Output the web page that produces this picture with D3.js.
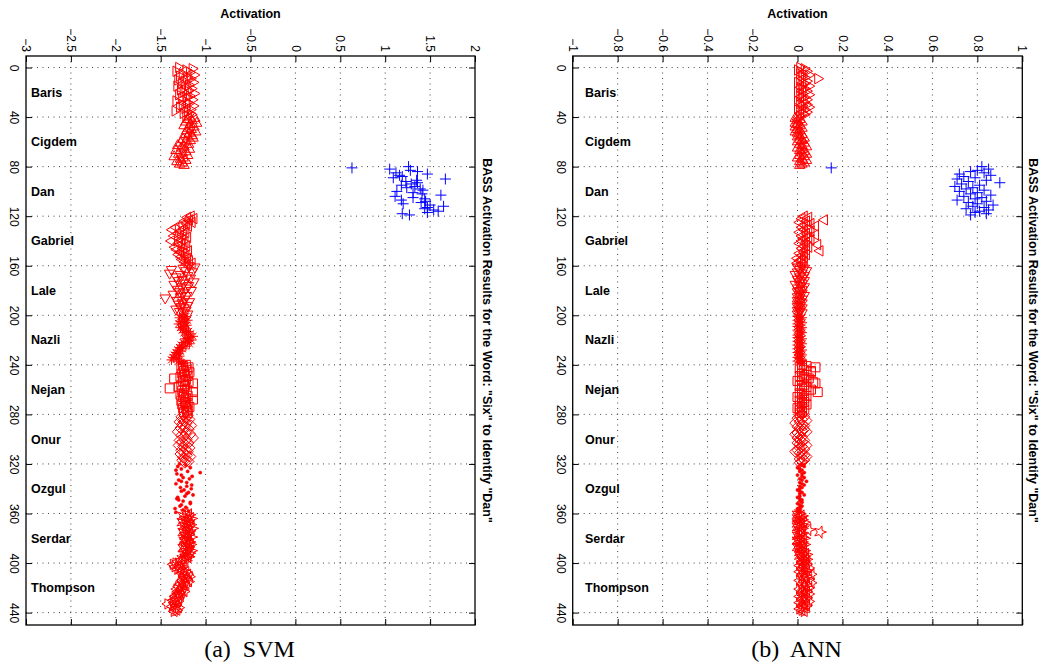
<!DOCTYPE html>
<html>
<head>
<meta charset="utf-8">
<script src="https://cdn.jsdelivr.net/npm/d3@7/dist/d3.min.js"></script>
<style>
  body { margin: 0; background: #fff; }
  svg { display: block; }
  text { font-family: "Liberation Sans", Arial, Helvetica, sans-serif; fill: #000; }
</style>
</head>
<body>
<svg id="chart" width="1046" height="666"></svg>
<script>
// speakers, 40 samples each (index 0..439)
const people = ["Baris", "Cigdem", "Dan", "Gabriel", "Lale", "Nazli", "Nejan", "Onur", "Ozgul", "Serdar", "Thompson"];
const indexTicks = [0, 40, 80, 120, 160, 200, 240, 280, 320, 360, 400, 440];
const svmTicks = [-3, -2.5, -2, -1.5, -1, -0.5, 0, 0.5, 1, 1.5, 2];
const annTicks = [-1, -0.8, -0.6, -0.4, -0.2, 0, 0.2, 0.4, 0.6, 0.8, 1];

// SVM activations
const svmBaris = [-1.30,-1.15,-1.22,-1.33,-1.18,-1.26,-1.13,-1.29,-1.21,-1.17,-1.31,-1.24,-1.14,-1.27,-1.19,-1.32,-1.23,-1.16,-1.28,-1.20,-1.25,-1.13,-1.30,-1.18,-1.22,-1.27,-1.15,-1.33,-1.21,-1.19,-1.26,-1.14,-1.29,-1.23,-1.17,-1.34,-1.20,-1.25,-1.16,-1.22];
const svmCigdem = [-1.18,-1.12,-1.20,-1.15,-1.22,-1.10,-1.17,-1.24,-1.13,-1.19,-1.16,-1.21,-1.11,-1.18,-1.23,-1.15,-1.20,-1.14,-1.25,-1.17,-1.22,-1.28,-1.19,-1.31,-1.24,-1.27,-1.18,-1.33,-1.22,-1.26,-1.30,-1.20,-1.35,-1.25,-1.28,-1.22,-1.32,-1.26,-1.29,-1.24];
const svmDan = [1.26,0.63,1.05,1.28,1.36,1.12,1.47,1.16,1.19,1.09,1.67,1.35,1.23,1.36,1.29,1.18,1.33,1.24,1.39,1.42,1.13,1.31,1.41,1.62,1.11,1.31,1.44,1.18,1.45,1.40,1.20,1.50,1.65,1.47,1.44,1.54,1.59,1.47,1.19,1.27];
const svmGabriel = [-1.16,-1.20,-1.13,-1.18,-1.23,-1.15,-1.21,-1.26,-1.19,-1.33,-1.24,-1.37,-1.28,-1.22,-1.31,-1.25,-1.35,-1.20,-1.29,-1.26,-1.38,-1.23,-1.30,-1.27,-1.21,-1.34,-1.25,-1.32,-1.19,-1.28,-1.24,-1.30,-1.22,-1.27,-1.20,-1.26,-1.18,-1.23,-1.15,-1.21];
const svmLale = [-1.18,-1.12,-1.25,-1.38,-1.22,-1.15,-1.40,-1.28,-1.20,-1.33,-1.17,-1.26,-1.30,-1.13,-1.24,-1.35,-1.19,-1.27,-1.22,-1.31,-1.16,-1.29,-1.25,-1.36,-1.21,-1.28,-1.45,-1.23,-1.32,-1.18,-1.26,-1.30,-1.20,-1.27,-1.24,-1.33,-1.22,-1.29,-1.25,-1.20];
const svmNazli = [-1.26,-1.22,-1.29,-1.24,-1.20,-1.27,-1.23,-1.30,-1.21,-1.25,-1.28,-1.22,-1.26,-1.19,-1.24,-1.17,-1.21,-1.14,-1.19,-1.23,-1.16,-1.20,-1.25,-1.18,-1.27,-1.22,-1.29,-1.26,-1.31,-1.28,-1.33,-1.30,-1.35,-1.29,-1.36,-1.32,-1.38,-1.30,-1.27,-1.25];
const svmNejan = [-1.22,-1.25,-1.19,-1.27,-1.21,-1.24,-1.18,-1.26,-1.23,-1.20,-1.28,-1.35,-1.22,-1.25,-1.19,-1.14,-1.27,-1.23,-1.30,-1.40,-1.21,-1.26,-1.14,-1.24,-1.28,-1.20,-1.25,-1.22,-1.14,-1.27,-1.23,-1.20,-1.26,-1.22,-1.18,-1.25,-1.21,-1.20,-1.24,-1.20];
const svmOnur = [-1.24,-1.20,-1.27,-1.22,-1.18,-1.25,-1.29,-1.21,-1.26,-1.16,-1.23,-1.28,-1.19,-1.25,-1.31,-1.22,-1.17,-1.27,-1.24,-1.14,-1.21,-1.29,-1.26,-1.19,-1.23,-1.30,-1.25,-1.18,-1.22,-1.27,-1.20,-1.24,-1.28,-1.21,-1.17,-1.25,-1.22,-1.26,-1.19,-1.23];
const svmOzgul = [-1.29,-1.22,-1.31,-1.17,-1.27,-1.33,-1.20,-1.06,-1.32,-1.27,-1.15,-1.25,-1.18,-1.30,-1.27,-1.21,-1.33,-1.155,-1.21,-1.28,-1.16,-1.24,-1.27,-1.19,-1.21,-1.14,-1.23,-1.31,-1.32,-1.30,-1.25,-1.17,-1.17,-1.27,-1.285,-1.22,-1.34,-1.25,-1.19,-1.33];
const svmSerdar = [-1.22,-1.18,-1.25,-1.20,-1.16,-1.23,-1.19,-1.26,-1.21,-1.17,-1.24,-1.20,-1.15,-1.22,-1.18,-1.25,-1.21,-1.19,-1.23,-1.16,-1.22,-1.20,-1.24,-1.18,-1.21,-1.17,-1.23,-1.19,-1.25,-1.20,-1.16,-1.22,-1.18,-1.24,-1.21,-1.19,-1.23,-1.26,-1.22,-1.28];
const svmThompson = [-1.33,-1.36,-1.30,-1.34,-1.28,-1.31,-1.25,-1.22,-1.27,-1.20,-1.24,-1.18,-1.23,-1.21,-1.26,-1.19,-1.24,-1.28,-1.22,-1.30,-1.26,-1.32,-1.27,-1.24,-1.29,-1.31,-1.28,-1.34,-1.30,-1.33,-1.36,-1.31,-1.35,-1.42,-1.33,-1.37,-1.30,-1.34,-1.32,-1.35];

// ANN activations
const annBaris = [0.01,0.03,0.00,0.04,0.02,0.01,0.05,0.02,0.03,0.09,0.01,0.04,0.00,0.03,0.02,0.05,0.01,0.03,0.02,0.04,0.00,0.02,0.05,0.01,0.03,0.02,0.04,0.00,0.03,0.01,0.04,0.02,0.05,0.00,0.03,0.01,0.04,0.02,0.03,0.01];
const annCigdem = [0.00,-0.01,0.01,0.00,0.02,-0.01,0.00,0.01,-0.01,0.02,0.00,0.01,-0.01,0.00,0.02,0.01,0.00,0.03,0.01,0.02,0.00,0.03,0.01,0.02,0.04,0.00,0.02,0.01,0.03,0.02,0.04,0.01,0.03,0.00,0.02,0.04,0.01,0.03,0.02,0.01];
const annDan = [0.82,0.15,0.85,0.80,0.77,0.83,0.72,0.86,0.74,0.79,0.71,0.84,0.76,0.90,0.73,0.81,0.70,0.78,0.75,0.83,0.72,0.80,0.77,0.86,0.74,0.82,0.79,0.71,0.84,0.76,0.80,0.87,0.78,0.83,0.75,0.85,0.81,0.79,0.84,0.77];
const annGabriel = [0.03,0.05,0.02,0.12,0.04,0.01,0.06,0.03,0.08,0.02,0.05,0.03,0.06,0.01,0.04,0.08,0.02,0.05,0.03,0.06,0.02,0.04,0.01,0.09,0.03,0.05,0.02,0.04,0.10,0.03,0.01,0.04,0.02,0.03,0.00,0.02,0.01,0.03,0.00,0.02];
const annLale = [0.02,0.00,0.03,0.01,0.04,0.00,0.02,-0.01,0.03,0.01,0.02,0.00,0.03,0.01,0.02,-0.01,0.01,0.03,0.00,0.02,0.01,0.00,0.02,0.01,0.03,0.00,0.01,0.02,0.00,0.01,0.02,0.00,0.01,0.00,0.02,0.01,0.00,0.01,0.02,0.00];
const annNazli = [0.01,0.00,0.02,0.01,0.00,0.01,0.02,0.00,0.01,0.00,0.02,0.01,0.00,0.01,0.02,0.01,0.00,0.01,0.00,0.02,0.01,0.00,0.01,0.02,0.00,0.01,0.01,0.00,0.02,0.01,0.00,0.01,0.02,0.01,0.00,0.01,0.02,0.00,0.01,0.02];
const annNejan = [0.02,0.04,0.08,0.01,0.03,0.06,0.06,0.02,0.04,0.01,0.03,0.05,0.02,0.00,0.07,0.08,0.03,0.01,0.04,0.02,0.06,0.03,0.09,0.01,0.02,0.04,0.00,0.03,0.02,0.01,0.03,0.02,0.04,0.01,0.02,0.00,0.03,0.01,0.02,0.01];
const annOnur = [0.02,0.01,0.03,0.00,0.02,0.04,0.01,-0.01,0.02,0.03,0.00,0.01,0.03,0.02,0.04,0.00,-0.01,0.01,0.02,0.00,0.01,0.03,0.02,0.00,0.01,0.04,0.02,0.01,0.03,0.00,-0.01,0.01,0.02,0.03,0.04,0.02,0.01,0.03,0.02,0.01];
const annOzgul = [0.02,0.01,0.03,0.00,0.01,0.02,0.01,0.03,0.02,0.00,0.02,0.03,0.01,0.02,0.04,0.01,0.02,0.03,0.01,0.02,0.01,0.00,0.01,0.02,0.01,0.03,0.01,0.00,0.01,0.02,0.01,0.02,0.00,0.01,0.02,0.01,0.00,0.01,0.00,0.01];
const annSerdar = [0.01,0.00,0.02,0.01,0.00,0.02,0.01,0.03,0.00,0.02,0.01,0.00,0.02,0.05,0.01,0.10,0.02,0.01,0.00,0.02,0.03,0.01,0.00,0.02,0.01,0.03,0.02,0.00,0.01,0.02,0.03,0.01,0.02,0.04,0.01,0.03,0.02,0.04,0.02,0.03];
const annThompson = [0.02,0.04,0.01,0.03,0.05,0.02,0.04,0.01,0.03,0.06,0.02,0.04,0.03,0.05,0.01,0.03,0.06,0.02,0.04,0.03,0.05,0.01,0.03,0.04,0.02,0.05,0.03,0.01,0.04,0.02,0.03,0.05,0.01,0.03,0.04,0.02,0.03,0.01,0.02,0.03];

const svmValues = [svmBaris, svmCigdem, svmDan, svmGabriel, svmLale, svmNazli, svmNejan, svmOnur, svmOzgul, svmSerdar, svmThompson];
const annValues = [annBaris, annCigdem, annDan, annGabriel, annLale, annNazli, annNejan, annOnur, annOzgul, annSerdar, annThompson];
const markerShapes = ["triRight", "triUp", "plus", "triLeft", "triDown", "asterisk", "square", "diamond", "dot", "pentagram", "hexagram"];
const target = "Dan";

const titleText = "BASS Activation Results for the Word: \"Six\" to Identify \"Dan\"";

// marker symbol types for d3.symbol (size is used as radius here)
function polygon(pointsFn) {
  return { draw(ctx, r) {
    pointsFn(r).forEach(([px, py], i) => i ? ctx.lineTo(px, py) : ctx.moveTo(px, py));
    ctx.closePath();
  } };
}
function star(n, inner, start) {
  return polygon(r => d3.range(n * 2).map(i => {
    const a = start + i * Math.PI / n, rr = i % 2 ? r * inner : r;
    return [rr * Math.cos(a), rr * Math.sin(a)];
  }));
}
const symbolTypes = {
  triUp: polygon(r => [[0, -r], [r * 0.87, r * 0.5], [-r * 0.87, r * 0.5]]),
  triDown: polygon(r => [[0, r], [r * 0.87, -r * 0.5], [-r * 0.87, -r * 0.5]]),
  triLeft: polygon(r => [[-r, 0], [r * 0.5, -r * 0.87], [r * 0.5, r * 0.87]]),
  triRight: polygon(r => [[r, 0], [-r * 0.5, -r * 0.87], [-r * 0.5, r * 0.87]]),
  square: polygon(r => [[-r, -r], [r, -r], [r, r], [-r, r]]),
  diamond: polygon(r => [[0, -r], [r, 0], [0, r], [-r, 0]]),
  pentagram: star(5, 0.4, 0),
  hexagram: star(6, 0.55, 0),
  plus: { draw(ctx, r) { ctx.moveTo(-r, 0); ctx.lineTo(r, 0); ctx.moveTo(0, -r); ctx.lineTo(0, r); } },
  asterisk: { draw(ctx, r) {
    for (let k = 0; k < 4; k++) {
      const a = k * Math.PI / 4;
      ctx.moveTo(-r * Math.cos(a), -r * Math.sin(a));
      ctx.lineTo(r * Math.cos(a), r * Math.sin(a));
    }
  } },
  dot: { draw(ctx, r) { ctx.moveTo(r, 0); ctx.arc(0, 0, r, 0, 2 * Math.PI); } }
};
const symbolRadius = { triUp: 6, triDown: 6, triLeft: 6, triRight: 6, square: 4.5, diamond: 5.5, pentagram: 6.5, hexagram: 6, plus: 5.5, asterisk: 5, dot: 1.6 };

const svg = d3.select("#chart");

const panels = [
  { left: 26, right: 475, domain: [-3, 2], ticks: svmTicks, values: svmValues, nameX: 31, titleX: 483, caption: "(a)  SVM" },
  { left: 572.7, right: 1022.3, domain: [-1, 1], ticks: annTicks, values: annValues, nameX: 585, titleX: 1029, caption: "(b)  ANN" }
];
const plotTop = 56, plotBottom = 625;

panels.forEach(p => {
  const x = d3.scaleLinear().domain(p.domain).range([p.left, p.right]);
  const y = d3.scaleLinear().domain([-9.3, 450]).range([plotTop, plotBottom]);
  const g = svg.append("g");

  // dotted grid
  g.append("g").selectAll("line").data(p.ticks.slice(1, -1)).join("line")
    .attr("x1", d => x(d)).attr("x2", d => x(d)).attr("y1", plotTop).attr("y2", plotBottom)
    .attr("stroke", "#444").attr("stroke-width", 1).attr("stroke-dasharray", "1,4.5");
  g.append("g").selectAll("line").data(indexTicks).join("line")
    .attr("x1", p.left).attr("x2", p.right).attr("y1", d => y(d)).attr("y2", d => y(d))
    .attr("stroke", "#444").attr("stroke-width", 1).attr("stroke-dasharray", "1,4.5");

  // axes, ticks pointing inward
  const fmt = d3.format("");
  const topAxis = g.append("g").attr("transform", `translate(0,${plotTop})`)
    .call(d3.axisTop(x).tickValues(p.ticks).tickFormat(fmt).tickSize(-6).tickSizeOuter(0));
  topAxis.selectAll("text")
    .attr("transform", "rotate(90)").attr("x", -4).attr("y", 4.3).attr("dy", 0)
    .attr("text-anchor", "end");
  g.append("g").attr("transform", `translate(0,${plotBottom})`)
    .call(d3.axisBottom(x).tickValues(p.ticks).tickFormat("").tickSize(-6).tickSizeOuter(0));
  const leftAxis = g.append("g").attr("transform", `translate(${p.left},0)`)
    .call(d3.axisLeft(y).tickValues(indexTicks).tickSize(-6).tickSizeOuter(0));
  leftAxis.selectAll("text")
    .attr("transform", "rotate(90)").attr("x", 0).attr("y", 16).attr("dy", 0)
    .attr("text-anchor", "middle");
  g.append("g").attr("transform", `translate(${p.right},0)`)
    .call(d3.axisRight(y).tickValues(indexTicks).tickFormat("").tickSize(-6).tickSizeOuter(0));
  g.selectAll(".domain").remove();
  g.selectAll(".tick line").attr("stroke", "#000").attr("stroke-width", 1);
  g.selectAll(".tick text").attr("fill", "#000").style("font-size", "12px").style("font-family", "\"Liberation Sans\", Arial, sans-serif");

  g.append("rect")
    .attr("x", p.left).attr("y", plotTop).attr("width", p.right - p.left).attr("height", plotBottom - plotTop)
    .attr("fill", "none").attr("stroke", "#000").attr("stroke-width", 1.3);

  // points
  p.values.forEach((vals, k) => {
    const shape = markerShapes[k];
    const color = people[k] === target ? "#0000ff" : "#ff0000";
    const sym = d3.symbol().type(symbolTypes[shape]).size(symbolRadius[shape]);
    g.append("g").selectAll("path").data(vals).join("path")
      .attr("transform", (d, i) => `translate(${x(d)},${y(k * 40 + i)})`)
      .attr("d", sym)
      .attr("fill", shape === "dot" ? color : "none")
      .attr("stroke", color).attr("stroke-width", shape === "dot" ? 0.5 : 1);
  });

  // speaker names
  g.append("g").selectAll("text").data(people).join("text")
    .attr("x", p.nameX).attr("y", (d, i) => y(i * 40 + 20))
    .attr("dy", "0.35em")
    .style("font-size", "12.5px").style("font-weight", "bold")
    .text(d => d);

  // titles
  g.append("text")
    .attr("x", (p.left + p.right) / 2).attr("y", 18)
    .attr("text-anchor", "middle")
    .style("font-size", "12.5px").style("font-weight", "bold")
    .text("Activation");
  g.append("text")
    .attr("transform", `translate(${p.titleX},${(plotTop + plotBottom) / 2}) rotate(90)`)
    .attr("text-anchor", "middle")
    .style("font-size", "12.5px").style("font-weight", "bold")
    .text(titleText);

  g.append("text")
    .attr("x", (p.left + p.right) / 2 - 1).attr("y", 657)
    .attr("text-anchor", "middle")
    .style("font-family", "\"Liberation Serif\", \"Times New Roman\", serif")
    .style("font-size", "24px")
    .style("white-space", "pre")
    .text(p.caption);
});
</script>
</body>
</html>
